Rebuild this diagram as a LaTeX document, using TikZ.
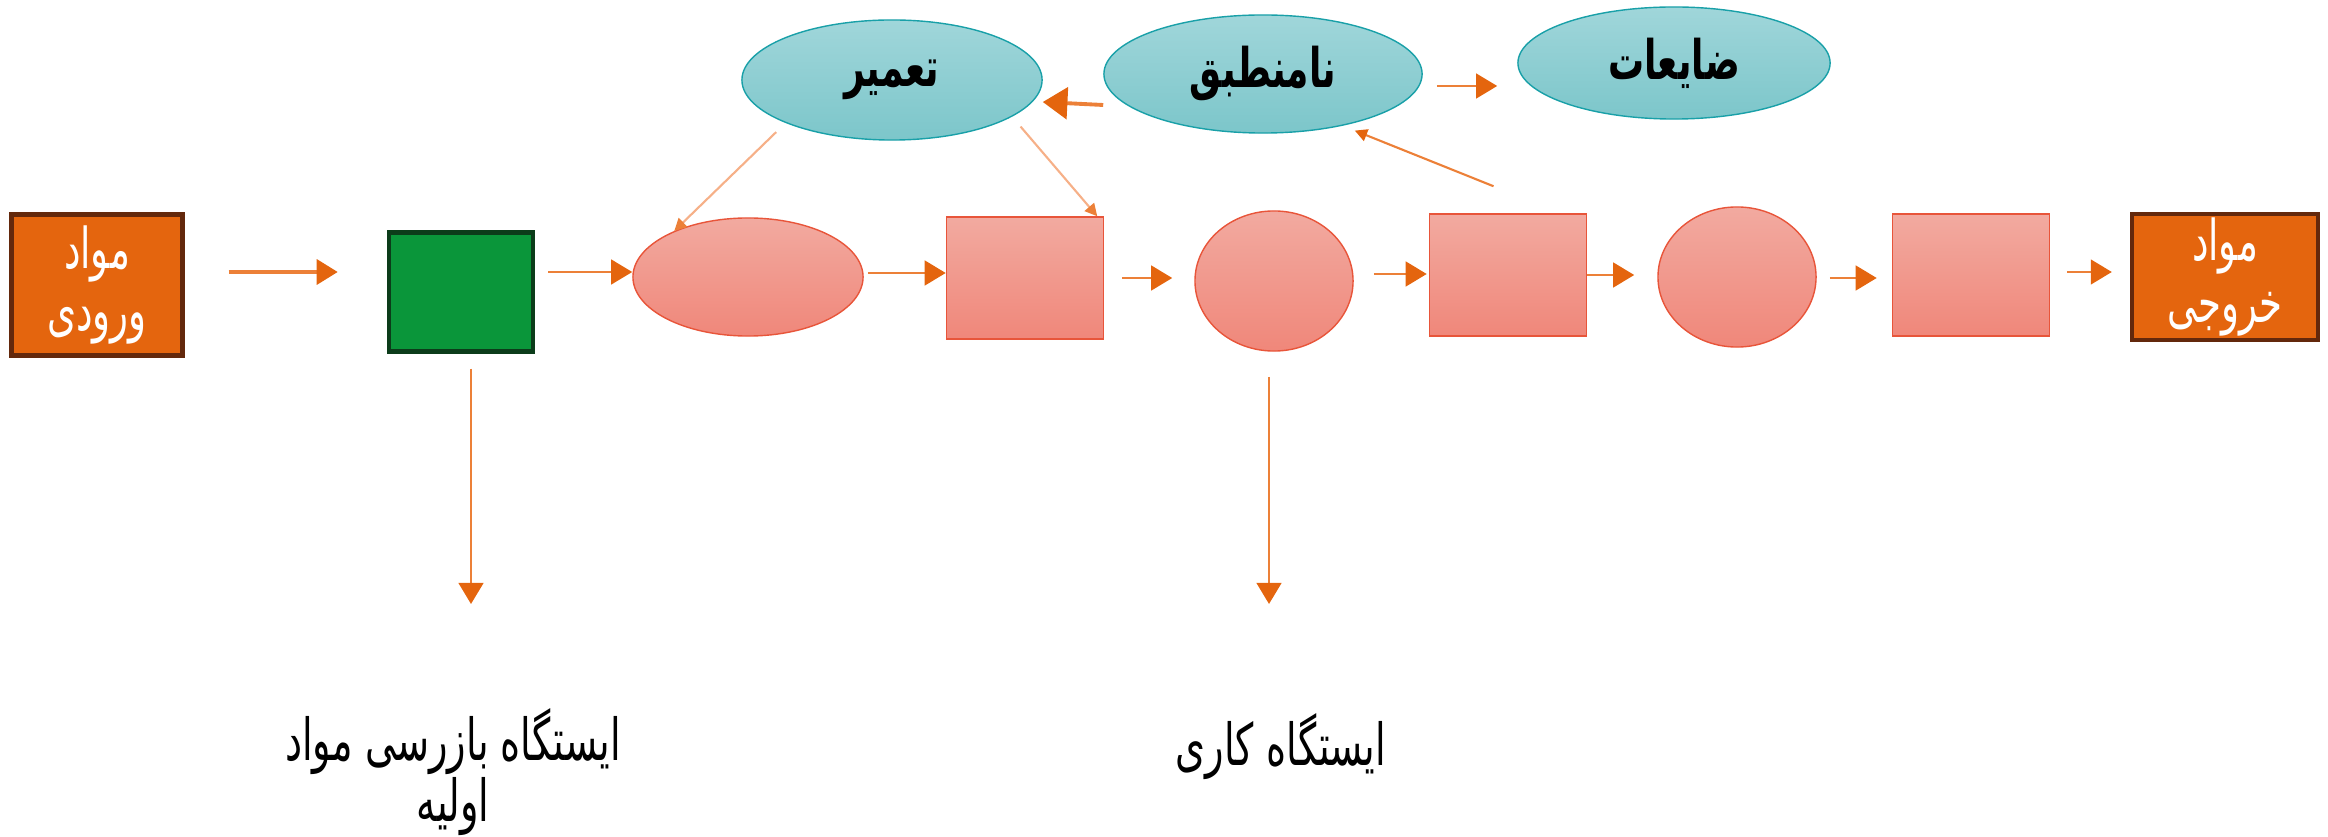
\documentclass[tikz,border=0pt]{standalone}
\usepackage{fontspec}
\newfontfamily\farsi[Script=Arabic, FakeStretch=0.66]{DejaVu Sans}
\TeXXeTstate=1
\usepackage{xcolor}
\definecolor{stationorange}{RGB}{228, 101, 14}
\definecolor{stationbrown}{RGB}{99, 40, 12}
\definecolor{checkgreen}{RGB}{10, 150, 58}
\definecolor{checkline}{RGB}{12, 60, 26}
\definecolor{pinktop}{RGB}{242, 170, 160}
\definecolor{pinkbottom}{RGB}{240, 135, 122}
\definecolor{pinkline}{RGB}{232, 85, 58}
\definecolor{tealtop}{RGB}{160, 214, 218}
\definecolor{tealbottom}{RGB}{124, 198, 202}
\definecolor{tealline}{RGB}{25, 160, 168}
\definecolor{flowline}{RGB}{236, 128, 56}
\definecolor{paleline}{RGB}{246, 176, 136}
\usepackage{tikz}
\usetikzlibrary{arrows.meta, shapes.geometric}

\tikzset{
    endbox/.style={rectangle, fill=stationorange, draw=stationbrown, line width=1.2pt,
        text=white, align=center, inner sep=1pt, font=\farsi\fontsize{16}{17.5}\selectfont},
    checkbox/.style={rectangle, fill=checkgreen, draw=checkline, line width=1.2pt,
        minimum width=1.44cm, minimum height=1.19cm},
    opbox/.style={rectangle, top color=pinktop, bottom color=pinkbottom, draw=pinkline,
        minimum width=1.57cm, minimum height=1.22cm},
    opround/.style={ellipse, top color=pinktop, bottom color=pinkbottom, draw=pinkline},
    bubble/.style={ellipse, top color=tealtop, bottom color=tealbottom, draw=tealline,
        inner sep=1pt, font=\farsi\bfseries\fontsize{15.5}{18}\selectfont},
    caption/.style={align=center, font=\farsi\fontsize{16.5}{16.5}\selectfont},
    flow/.style={draw=flowline, line width=0.8pt, -{Triangle[length=6pt, width=7pt, color=stationorange]}},
    paleflow/.style={draw=paleline, line width=0.6pt, -{Triangle[length=3.5pt, width=3.5pt, color=flowline]}},
}

\begin{document}
\begin{tikzpicture}[x=0.01cm, y=-0.01cm]
    \useasboundingbox (0,0) rectangle (2328,837);

    % production line
    \node[endbox, minimum width=1.71cm, minimum height=1.41cm] (inbox) at (97,285)
        {\beginR مواد\endR\\\beginR ورودی\endR};
    \node[checkbox] (check) at (461,292) {};
    \node[opround, minimum width=2.30cm, minimum height=1.18cm] (op1) at (748,277) {};
    \node[opbox] (op2) at (1025,278) {};
    \node[opround, minimum width=1.58cm, minimum height=1.40cm] (op3) at (1274,281) {};
    \node[opbox] (op4) at (1508,275) {};
    \node[opround, minimum width=1.58cm, minimum height=1.40cm] (op5) at (1737,277) {};
    \node[opbox] (op6) at (1971,275) {};
    \node[endbox, minimum width=1.86cm, minimum height=1.26cm] (outbox) at (2225,277)
        {\beginR مواد\endR\\\beginR خروجی\endR};

    % rework and scrap
    \node[bubble, minimum width=3.00cm, minimum height=1.20cm] (repair) at (892,80) {\beginR تعمیر\endR};
    \node[bubble, minimum width=3.18cm, minimum height=1.18cm] (reject) at (1263,74) {\beginR نامنطبق\endR};
    \node[bubble, minimum width=3.12cm, minimum height=1.12cm] (scrap) at (1674,63) {\beginR ضایعات\endR};

    % captions
    \node[caption] (checklabel) at (453,772) {\beginR ایستگاه بازرسی مواد\endR\\\beginR اولیه\endR};
    \node[caption] (oplabel) at (1281,747) {\beginR ایستگاه کاری\endR};
    \coordinate (checkend) at (471,604);
    \coordinate (opend) at (1269,604);

    \draw[flow, line width=1.3pt, shorten <=0.44cm, shorten >=0.49cm] (inbox.east |- 0,272) -- (check.west |- 0,272);
    \draw[flow, shorten <=0.13cm] (check.east |- 0,272) -- (op1.west |- 0,272);
    \draw[flow, shorten <=0.04cm] (op1.east |- 0,273) -- (op2.west |- 0,273);
    \draw[flow, shorten <=0.18cm, shorten >=0.22cm] (op2.east |- 0,278) -- (op3.west |- 0,278);
    \draw[flow, shorten <=0.20cm, shorten >=0.02cm] (op3.east |- 0,274) -- (op4.west |- 0,274);
    \draw[flow, shorten >=0.23cm] (op4.east |- 0,275) -- (op5.west |- 0,275);
    \draw[flow, shorten <=0.13cm, shorten >=0.15cm] (op5.east |- 0,278) -- (op6.west |- 0,278);
    \draw[flow, shorten <=0.17cm, shorten >=0.18cm] (op6.east |- 0,272) -- (outbox.west |- 0,272);

    \draw[flow, shorten <=0.15cm] (check.south -| checkend) -- (checkend);
    \draw[flow, shorten <=0.25cm] (op3.south -| opend) -- (opend);

    \draw[flow, line width=1.1pt, -{Triangle[length=7pt, width=9pt, color=stationorange]}] (reject.west |- 0,105) -- (repair.east |- 0,102);
    \draw[flow, shorten <=0.14cm, shorten >=0.20cm] (reject.east |- 0,86) -- (scrap.west |- 0,86);
    \draw[flow, line width=0.6pt, -{Triangle[length=3.5pt, width=3.5pt, color=stationorange]}, shorten >=0.13cm]
        ([xshift=-0.145cm, yshift=0.27cm]op4.north) -- (reject.-33);
    \draw[paleflow, shorten <=0.13cm] (repair.202) -- (op1.148);
    \draw[paleflow, shorten <=0.13cm] (repair.-17) -- ([xshift=-0.07cm]op2.north east);
\end{tikzpicture}
\end{document}
